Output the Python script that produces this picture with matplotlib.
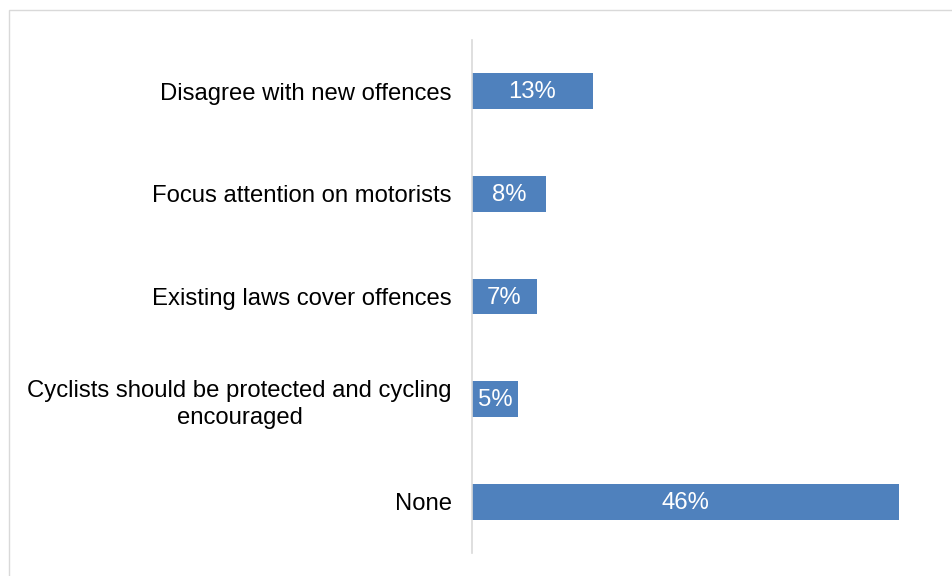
import matplotlib
matplotlib.use("Agg")
import matplotlib.pyplot as plt
from matplotlib.patches import Rectangle

categories = [
    "Disagree with new offences",
    "Focus attention on motorists",
    "Existing laws cover offences",
    "Cyclists should be protected and cycling\nencouraged",
    "None",
]
values = [13, 8, 7, 5, 46]

W, H = 953, 576
fig = plt.figure(figsize=(W / 100, H / 100), dpi=100)
plt.rcParams["font.family"] = ["Liberation Sans", "DejaVu Sans"]

# light frame around the chart area
fig.patches.append(Rectangle((9 / W, -0.1), 1.2, 1 - 10 / H + 0.1,
                             transform=fig.transFigure, fill=False,
                             edgecolor="#d9d9d9", linewidth=1.0))

ax = fig.add_axes([472 / W, 1 - 553 / H, (936 - 472) / W, (553 - 40) / H])
y = list(range(len(categories)))
ax.barh(y, values, height=0.35, color="#4F81BD", zorder=2)
ax.set_ylim(len(categories) - 0.5, -0.5)
ax.set_xlim(0, 50)

for yi, v in zip(y, values):
    ax.text(v / 2, yi + 0.01, f"{v}%", ha="center", va="center",
            color="white", fontsize=17.2, zorder=3)

ax.set_yticks(y)
ax.set_yticklabels(categories, fontsize=17.2, multialignment="center",
                   linespacing=1.3)
ax.tick_params(axis="y", length=0, pad=14.4)
ax.set_xticks([])
for s in ("top", "right", "bottom"):
    ax.spines[s].set_visible(False)
ax.spines["left"].set_color("#d9d9d9")
ax.spines["left"].set_linewidth(1.2)

fig.savefig("out.png", dpi=100)
